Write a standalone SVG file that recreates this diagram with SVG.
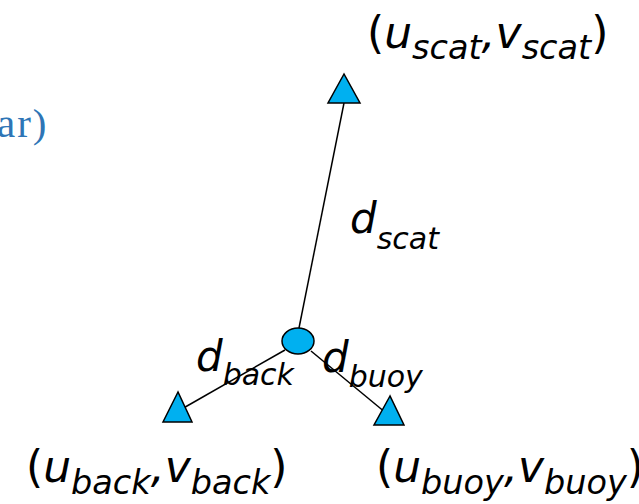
<svg xmlns="http://www.w3.org/2000/svg" width="639" height="504" viewBox="0 0 639 504">
<style>
.lbl{font-family:"DejaVu Sans","Verdana",sans-serif;font-size:42px;fill:#000}
.crd{font-size:44px}
.it{font-style:italic}
.sub{font-style:italic;font-size:30px}
.crd .sub{font-size:33.5px}
.node{fill:#00B0F0;stroke:#000;stroke-width:1.5}
.edge{stroke:#000;stroke-width:1.5;fill:none}
.frag{font-family:"Liberation Serif","Times New Roman",serif;font-size:41px;letter-spacing:2px;fill:#2E75B6}
</style>
<rect width="639" height="504" fill="#fff"/>
<text class="frag" x="-3" y="137">ar)</text>
<g id="connectors">
<line class="edge" x1="344" y1="103" x2="299" y2="328"/>
<line class="edge" x1="285" y1="350" x2="180" y2="410"/>
<line class="edge" x1="311" y1="351" x2="386" y2="413"/>
</g>
<g id="scat"><polygon class="node" points="344,74 328,103 360,103"/></g>
<g id="back"><polygon class="node" points="178,392 163,422 192,422"/></g>
<g id="buoy"><polygon class="node" points="390,396 374,425 404,425"/></g>
<g id="center"><ellipse class="node" cx="298" cy="341" rx="16" ry="13"/></g>
<g id="labels">
<text class="lbl crd" x="367" y="48">(<tspan class="it">u</tspan><tspan class="sub" dy="11">scat</tspan><tspan class="it" dy="-11">,v</tspan><tspan class="sub" dy="11">scat</tspan><tspan dy="-11">)</tspan></text>
<text class="lbl" x="350" y="233"><tspan class="it">d</tspan><tspan class="sub" dy="16">scat</tspan></text>
<text class="lbl" x="196" y="371"><tspan class="it">d</tspan><tspan class="sub" dy="14">back</tspan></text>
<text class="lbl" x="322" y="372"><tspan class="it">d</tspan><tspan class="sub" dy="15">buoy</tspan></text>
<text class="lbl crd" x="26" y="482">(<tspan class="it">u</tspan><tspan class="sub" dy="12">back</tspan><tspan class="it" dy="-12">,v</tspan><tspan class="sub" dy="12">back</tspan><tspan dy="-12">)</tspan></text>
<text class="lbl crd" x="376" y="482">(<tspan class="it">u</tspan><tspan class="sub" dy="12">buoy</tspan><tspan class="it" dy="-12">,v</tspan><tspan class="sub" dy="12">buoy</tspan><tspan dy="-12">)</tspan></text>
</g>
</svg>
